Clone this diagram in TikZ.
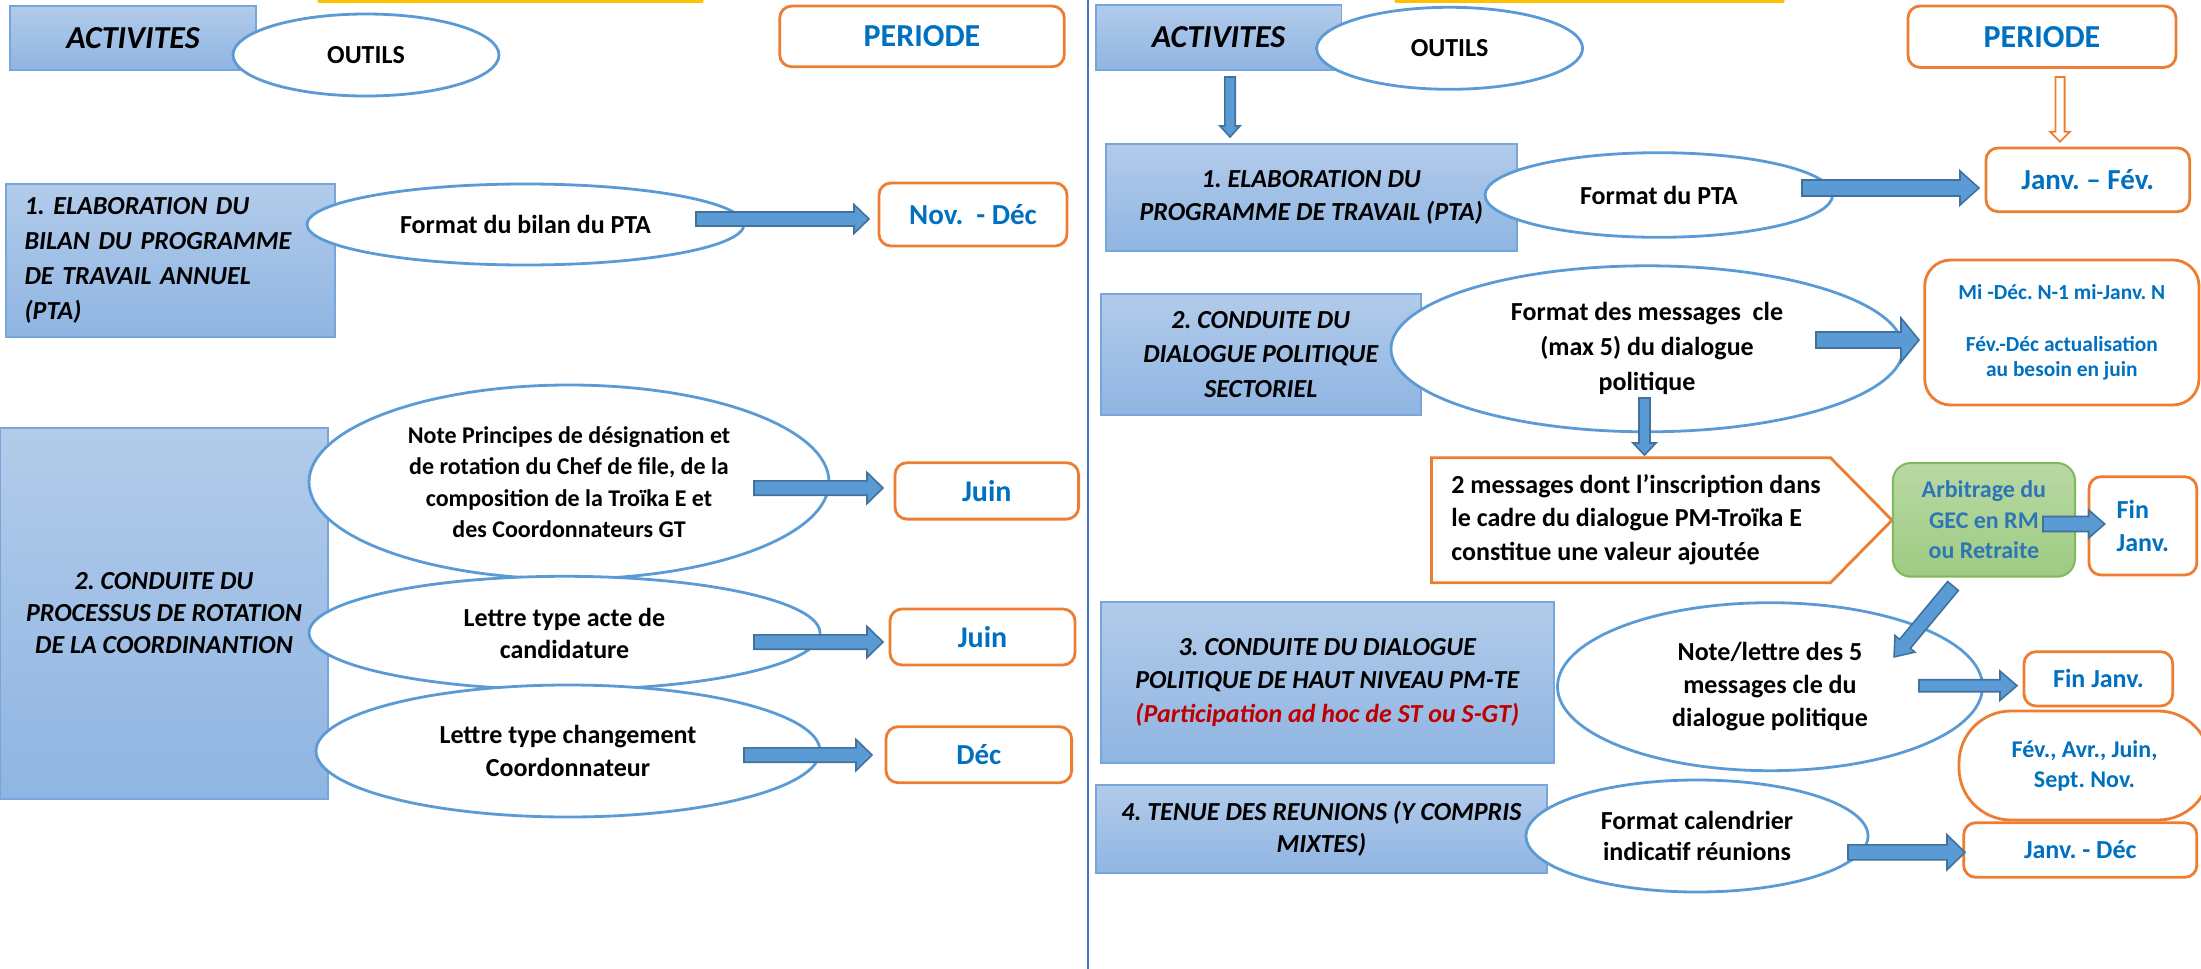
\documentclass[tikz,border=0pt]{standalone}
\usepackage{fontspec}
\setmainfont{Carlito}
\frenchspacing
\usetikzlibrary{calc,shapes.geometric}

\definecolor{actTop}{RGB}{178,203,234}
\definecolor{actBot}{RGB}{143,181,226}
\definecolor{actLine}{RGB}{120,165,218}
\definecolor{toolLine}{RGB}{91,155,213}
\definecolor{perLine}{RGB}{237,125,49}
\definecolor{perText}{RGB}{0,112,192}
\definecolor{arrFill}{RGB}{91,155,213}
\definecolor{arrLine}{RGB}{65,113,156}
\definecolor{sepLine}{RGB}{68,114,196}
\definecolor{barGold}{RGB}{255,192,0}
\definecolor{arbTop}{RGB}{184,216,164}
\definecolor{arbBot}{RGB}{158,203,130}
\definecolor{arbLine}{RGB}{128,185,90}
\definecolor{arbText}{RGB}{46,117,182}
\definecolor{noteRed}{RGB}{192,0,0}

\newcommand{\fsz}[2]{\fontsize{#1}{#2}\selectfont}
\newcommand{\fatarrow}[6][blockarr]{%
	\path[#1] let \p1=(#2), \p2=(#3),
		\n1={atan2(\y2-\y1,\x2-\x1)}, \n2={veclen(\x2-\x1,\y2-\y1)-#6}, \n3={veclen(\x2-\x1,\y2-\y1)} in
		[shift={(\p1)}, rotate=\n1]
		(0pt,#4) -- (\n2,#4) -- (\n2,#5) -- (\n3,0pt) -- (\n2,-#5) -- (\n2,-#4) -- (0pt,-#4) -- cycle;
}

\tikzset{
	actbox/.style 2 args={draw=actLine, line width=0.9pt, top color=actTop, bottom color=actBot, inner sep=0pt, align=center, font=\bfseries\itshape\fsz{#1}{#2}},
	tool/.style 2 args={ellipse, draw=toolLine, line width=1.4pt, fill=white, inner sep=0pt, align=center, font=\bfseries\fsz{#1}{#2}},
	perbox/.style 2 args={draw=perLine, line width=1.4pt, fill=white, rounded corners=6pt, inner sep=0pt, align=center, text=perText, font=\bfseries\fsz{#1}{#2}},
	blockarr/.style={fill=arrFill, draw=arrLine, line width=0.8pt},
	hollowarr/.style={fill=white, draw=perLine, line width=0.9pt},
}

\begin{document}
\begin{tikzpicture}[x=0.5pt, y=-0.5pt]

	\useasboundingbox (0,0) rectangle (2201,969);
	\fill[white] (0,0) rectangle (2201,969);
	\draw[barGold, line width=1.6pt, line cap=round] (319,1)--(702,1);
	\draw[barGold, line width=1.6pt, line cap=round] (1396,1)--(1783,1);
	\draw[sepLine, line width=1.2pt] (1088,0)--(1088,969);

	\node[actbox={16}{19}, minimum width=122.75pt, minimum height=32.35pt] (actL) at (133,38) {ACTIVITES};
	\node[tool={13}{16}, minimum width=133pt, minimum height=41pt] (outL) at (366,55) {OUTILS};
	\node[perbox={16}{19}, minimum width=142.3pt, minimum height=30.35pt] (perL) at (922,36.4) {PERIODE};

	\node[actbox={13}{17.5}, align=left, text width=145.7pt, minimum width=164.7pt, minimum height=76.5pt] (elabL) at (170.3,260.5) {1. ELABORATION DU\\BILAN DU PROGRAMME\\DE TRAVAIL ANNUEL\\(PTA)};
	\node[tool={13}{16}, minimum width=218.5pt, minimum height=40.5pt] (bilanL) at (525.5,224.5) {Format du bilan du PTA};
	\node[perbox={14.5}{17}, minimum width=94pt, minimum height=31.5pt] (novL) at (973,214.5) {Nov.\ \ - Déc};

	\node[actbox={13}{16}, minimum width=164pt, minimum height=185.5pt] (condL) at (164,613.5) {2. CONDUITE DU\\PROCESSUS DE ROTATION\\DE LA COORDINANTION};
	\node[tool={12}{15.7}, minimum width=260pt, minimum height=97pt] (noteL) at (569,482) {Note Principes de désignation et\\de rotation du Chef de file, de la\\composition de la Troïka E et\\des Coordonnateurs GT};
	\node[tool={13}{16}, minimum width=255.5pt, minimum height=56.7pt] (acteL) at (564.5,633) {Lettre type acte de\\candidature};
	\node[tool={13}{16.35}, minimum width=252pt, minimum height=66pt] (chgL) at (568,751) {Lettre type changement\\Coordonnateur};
	\node[perbox={15}{18}, minimum width=91.8pt, minimum height=28.2pt] (juinA) at (986.8,490.9) {Juin};
	\node[perbox={15}{18}, minimum width=92.5pt, minimum height=28pt] (juinB) at (982.5,637) {Juin};
	\node[perbox={14.5}{17}, minimum width=92.8pt, minimum height=28pt] (decL) at (978.8,754.7) {Déc};

	\coordinate (a1s) at (696,219);
	\coordinate (a1e) at (869,219);
	\coordinate (a2s) at (754,488);
	\coordinate (a2e) at (883,488);
	\coordinate (a3s) at (754,642);
	\coordinate (a3e) at (883,642);
	\coordinate (a4s) at (744,755);
	\coordinate (a4e) at (872,755);
	\fatarrow{a1s}{a1e}{3.5pt}{7.25pt}{7.5pt}
	\fatarrow{a2s}{a2e}{3.6pt}{7.8pt}{8pt}
	\fatarrow{a3s}{a3e}{3.6pt}{7.8pt}{8pt}
	\fatarrow{a4s}{a4e}{3.6pt}{7.8pt}{8pt}

	\node[actbox={16}{19}, minimum width=122.9pt, minimum height=32.5pt] (actR) at (1218.6,37.5) {ACTIVITES};
	\node[tool={13}{16}, minimum width=133pt, minimum height=41pt] (outR) at (1449.6,48.3) {OUTILS};
	\node[perbox={16}{19}, minimum width=134pt, minimum height=30.7pt] (perR) at (2042,36.7) {PERIODE};

	\node[actbox={13}{16.85}, minimum width=205.7pt, minimum height=53.35pt] (elabR) at (1311.3,197.3) {1. ELABORATION DU\\PROGRAMME DE TRAVAIL (PTA)};
	\node[tool={13}{16}, minimum width=173.8pt, minimum height=42.3pt] (ptaR) at (1658.8,195) {Format du PTA};
	\node[perbox={14.5}{17}, minimum width=101.85pt, minimum height=31.85pt] (janfev) at (2087.8,179.8) {Janv. – Fév.};

	\node[actbox={13}{17.25}, minimum width=160.2pt, minimum height=60.5pt] (condR) at (1260.8,354.5) {2. CONDUITE DU\\DIALOGUE POLITIQUE\\SECTORIEL};
	\node[tool={13}{17.5}, minimum width=256pt, minimum height=83pt] (msgR) at (1647,348.8) {Format des messages~ cle\\(max 5) du dialogue\\politique};
	\node[perbox={10.7}{12.85}, rounded corners=13pt, minimum width=137.15pt, minimum height=72.5pt] (midec) at (2061.85,332.5) {Mi -Déc. N-1 mi-Janv. N\\[12.85pt]Fév.-Déc actualisation\\au besoin en juin};

	\coordinate (pA) at (1431.5,457.7);
	\coordinate (pB) at (1830.5,457.7);
	\coordinate (pC) at (1892,520.2);
	\coordinate (pD) at (1830.5,582.7);
	\coordinate (pE) at (1431.5,582.7);
	\draw[perLine, line width=1.4pt, fill=white] (pA)--(pB)--(pC)--(pD)--(pE)--cycle;
	\node[anchor=west, align=left, inner sep=0pt, font=\bfseries\fsz{13}{16.7}] (msg2) at (1451,519.5) {2 messages dont l’inscription dans\\le cadre du dialogue PM-Troïka E\\constitue une valeur ajoutée};

	\node[draw=arbLine, line width=1pt, top color=arbTop, bottom color=arbBot, rounded corners=9pt, align=center, inner sep=0pt, text=arbText, font=\bfseries\fsz{12}{15.25}, minimum width=91.1pt, minimum height=56.85pt] (arb) at (1983.9,519.85) {Arbitrage du\\GEC en RM\\ou Retraite};
	\node[perbox={13}{16.65}, align=left, minimum width=53.9pt, minimum height=49.15pt] (finA) at (2142.9,525.85) {Fin\\Janv.};

	\node[actbox={13}{16.65}, minimum width=226.7pt, minimum height=80.8pt] (dialR) at (1327.3,682.5) {3. CONDUITE DU DIALOGUE\\POLITIQUE DE HAUT NIVEAU PM-TE\\\textcolor{noteRed}{(Participation ad hoc de ST ou S-GT)}};
	\node[tool={13}{16.65}, minimum width=212.5pt, minimum height=84pt] (noteR) at (1770,686.7) {Note/lettre des 5\\messages cle du\\dialogue politique};
	\node[perbox={13}{16}, minimum width=74.35pt, minimum height=27.15pt] (finB) at (2098.35,678.85) {Fin Janv.};
	\node[perbox={12}{15}, rounded corners=26pt, minimum width=125.5pt, minimum height=54.5pt] (fev) at (2084.5,765.5) {Fév., Avr., Juin,\\Sept. Nov.};

	\node[actbox={13}{16.15}, minimum width=225.65pt, minimum height=44.15pt] (reuR) at (1321.35,829.15) {4. TENUE DES REUNIONS (Y COMPRIS\\MIXTES)};
	\node[tool={13}{15.85}, minimum width=171pt, minimum height=56pt] (calR) at (1697,836) {Format calendrier\\indicatif réunions};
	\node[perbox={13}{16}, minimum width=116.55pt, minimum height=27.3pt] (jandec) at (2080.25,850) {Janv. - Déc};

	\coordinate (d1s) at (1230,77);
	\coordinate (d1e) at (1230,137);
	\coordinate (d2s) at (2060,77);
	\coordinate (d2e) at (2060,141.7);
	\coordinate (b1s) at (1802,188);
	\coordinate (b1e) at (1979,188);
	\coordinate (b2s) at (1816,340);
	\coordinate (b2e) at (1919,340);
	\coordinate (d3s) at (1644.5,398);
	\coordinate (d3e) at (1644.5,455);
	\coordinate (g1s) at (2043,524);
	\coordinate (g1e) at (2104.7,524);
	\coordinate (g2s) at (1953,586);
	\coordinate (g2e) at (1894,657);
	\coordinate (b3s) at (1919,685.7);
	\coordinate (b3e) at (2017,685.7);
	\coordinate (b4s) at (1848,852.3);
	\coordinate (b4e) at (1965,852.3);
	\fatarrow{d1s}{d1e}{2.6pt}{5pt}{5.5pt}
	\fatarrow[hollowarr]{d2s}{d2e}{2.3pt}{5pt}{5pt}
	\fatarrow{b1s}{b1e}{4pt}{8.5pt}{9.5pt}
	\fatarrow{b2s}{b2e}{4pt}{11pt}{9pt}
	\fatarrow{d3s}{d3e}{2.75pt}{5.75pt}{6pt}
	\fatarrow{g1s}{g1e}{3.75pt}{7pt}{8pt}
	\fatarrow{g2s}{g2e}{3.5pt}{6.5pt}{8.5pt}
	\fatarrow{b3s}{b3e}{3pt}{7.3pt}{8.5pt}
	\fatarrow{b4s}{b4e}{3.75pt}{8.75pt}{9pt}

\end{tikzpicture}
\end{document}
